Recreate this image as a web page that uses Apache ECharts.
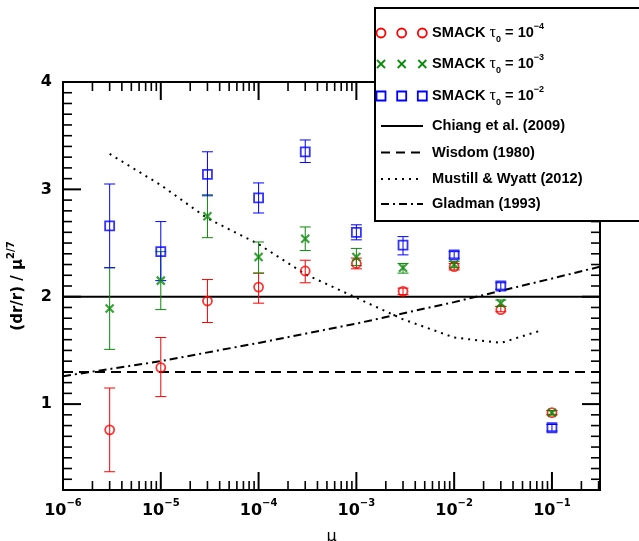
<!DOCTYPE html>
<html><head><meta charset="utf-8">
<script src="https://cdn.jsdelivr.net/npm/echarts@6/dist/echarts.min.js"></script>
<style>html,body{margin:0;padding:0;background:#fff}#c{width:639px;height:541px}</style>
</head><body><div id="c"></div>
<script>
// ---- data ----
const mu = [3e-6, 1e-5, 3e-5, 1e-4, 3e-4, 1e-3, 3e-3, 1e-2, 3e-2, 1e-1];
const redVal = [0.76, 1.34, 1.96, 2.09, 2.24, 2.31, 2.05, 2.28, 1.88, 0.92];
const redLo  = [0.37, 1.07, 1.76, 1.94, 2.13, 2.26, 2.02, 2.25, 1.86, 0.90];
const redHi  = [1.15, 1.62, 2.16, 2.22, 2.34, 2.36, 2.08, 2.31, 1.91, 0.94];
const greenVal = [1.89, 2.15, 2.75, 2.37, 2.54, 2.37, 2.27, 2.30, 1.94, 0.92];
const greenLo  = [1.51, 1.88, 2.55, 2.22, 2.43, 2.29, 2.22, 2.27, 1.91, 0.90];
const greenHi  = [2.27, 2.42, 2.95, 2.51, 2.65, 2.45, 2.31, 2.33, 1.97, 0.94];
const blueVal = [2.66, 2.42, 3.14, 2.92, 3.35, 2.60, 2.48, 2.39, 2.10, 0.78];
const blueLo  = [2.27, 2.15, 2.94, 2.78, 3.25, 2.53, 2.39, 2.36, 2.07, 0.75];
const blueHi  = [3.05, 2.70, 3.35, 3.06, 3.46, 2.67, 2.56, 2.42, 2.13, 0.81];
const chiangMu = [1e-6, 0.31];
const chiangVal = [2.0, 2.0];
const wisdomMu = [1e-6, 0.31];
const wisdomVal = [1.3, 1.3];
const mustillMu = [3e-6, 1e-5, 3e-5, 1e-4, 3e-4, 1e-3, 3e-3, 1e-2, 3e-2, 8e-2];
const mustillVal = [3.33, 3.04, 2.73, 2.49, 2.21, 1.99, 1.79, 1.62, 1.57, 1.69];
const gladmanMu = [1e-6, 1e-5, 1e-4, 1e-3, 1e-2, 1e-1, 0.31];
const gladmanVal = [1.26, 1.40, 1.57, 1.75, 1.95, 2.17, 2.28];
const xMin = 1e-6, xMax = 0.31, yMin = 0.2, yMax = 4;
const xMajorTicks = [1e-6, 1e-5, 1e-4, 1e-3, 1e-2, 1e-1];
const yMajorTicks = [1, 2, 3, 4];

// ---- helpers ----
const zip = (a, b) => a.map((v, i) => [v, b[i]]);
const zip3 = (a, b, c) => a.map((v, i) => [v, b[i], c[i]]);

// tick marks (all four sides)
const tickData = [];
xMajorTicks.forEach(d => {
  for (let m = 1; m <= 9; m++) {
    const v = m * d;
    if (v < xMin * 0.999 || v > xMax) continue;
    const maj = m === 1 ? 1 : 0;
    tickData.push([v, yMin, 0, maj]);
    tickData.push([v, yMax, 1, maj]);
  }
});
for (let i = 2; i <= 40; i++) {
  const v = i / 10;
  const maj = i % 10 === 0 ? 1 : 0;
  tickData.push([xMin, v, 2, maj]);
  tickData.push([xMax, v, 3, maj]);
}

function errRender(color) {
  return function (params, api) {
    const x = api.value(0);
    const p1 = api.coord([x, api.value(1)]);
    const p2 = api.coord([x, api.value(2)]);
    const w = 5.5;
    const st = { stroke: color, lineWidth: 1 };
    return { type: 'group', children: [
      { type: 'line', shape: { x1: p1[0], y1: p1[1], x2: p2[0], y2: p2[1] }, style: st },
      { type: 'line', shape: { x1: p1[0] - w, y1: p1[1], x2: p1[0] + w, y2: p1[1] }, style: st },
      { type: 'line', shape: { x1: p2[0] - w, y1: p2[1], x2: p2[0] + w, y2: p2[1] }, style: st }
    ]};
  };
}

const RED = '#ff0000', GREEN = '#0a8a0a', BLUE = '#0000ff';
const tickFont = 'DejaVu Sans';
const legFont = 'Liberation Sans';

const crossPath = 'path://M0,0L10,10M10,0L0,10';

const chart = echarts.init(document.getElementById('c'), null, { renderer: 'canvas' });

// legend graphics
const lx = [381, 401.7, 422.3];
const rowsY = [33, 64, 96, 126, 152.5, 179, 204];
const legTextRich = {
  t: { fontFamily: 'Liberation Serif', fontSize: 16, fontWeight: 'normal', lineHeight: 22 },
  sub: { fontFamily: legFont, fontWeight: 'bold', fontSize: 9, verticalAlign: 'bottom', lineHeight: 13 },
  sup: { fontFamily: legFont, fontWeight: 'bold', fontSize: 9, verticalAlign: 'top', lineHeight: 10 }
};
function legText(txt, y) {
  return { type: 'text', z: 101, style: { text: txt, x: 432, y: y, verticalAlign: 'middle',
    fontFamily: legFont, fontWeight: 'bold', fontSize: 14.6, lineHeight: 22, fill: '#000', rich: legTextRich } };
}
const g = [];
g.push({ type: 'rect', z: 100, shape: { x: 375, y: 8, width: 290, height: 213 },
  style: { fill: '#fff', stroke: '#000', lineWidth: 2 } });
lx.forEach(x => {
  g.push({ type: 'circle', z: 101, shape: { cx: x, cy: rowsY[0], r: 4.5 }, style: { fill: 'none', stroke: RED, lineWidth: 1.8 } });
  g.push({ type: 'polyline', z: 101, shape: { points: [[x - 4, rowsY[1] - 4], [x + 4, rowsY[1] + 4]] }, style: { stroke: GREEN, lineWidth: 1.8, fill: null } });
  g.push({ type: 'polyline', z: 101, shape: { points: [[x - 4, rowsY[1] + 4], [x + 4, rowsY[1] - 4]] }, style: { stroke: GREEN, lineWidth: 1.8, fill: null } });
  g.push({ type: 'rect', z: 101, shape: { x: x - 4.5, y: rowsY[2] - 4.5, width: 9, height: 9 }, style: { fill: 'none', stroke: BLUE, lineWidth: 1.8 } });
});
const lineTypes = [null, [9, 6], [2, 5], [8, 4, 2, 4]];
lineTypes.forEach((d, i) => {
  g.push({ type: 'line', z: 101, shape: { x1: 381, y1: rowsY[3 + i], x2: 423, y2: rowsY[3 + i] },
    style: { stroke: '#000', lineWidth: 2, lineDash: d } });
});
g.push(legText('SMACK {t|τ}{sub|0} = 10{sup|−4}', rowsY[0]));
g.push(legText('SMACK {t|τ}{sub|0} = 10{sup|−3}', rowsY[1]));
g.push(legText('SMACK {t|τ}{sub|0} = 10{sup|−2}', rowsY[2]));
g.push(legText('Chiang et al. (2009)', rowsY[3]));
g.push(legText('Wisdom (1980)', rowsY[4]));
g.push(legText('Mustill & Wyatt (2012)', rowsY[5]));
g.push(legText('Gladman (1993)', rowsY[6]));

const option = {
  animation: false,
  backgroundColor: '#fff',
  grid: { left: 63, top: 82, right: 39, bottom: 51, outerBoundsMode: 'none', containLabel: false,
    show: true, borderColor: '#000', borderWidth: 2, backgroundColor: 'transparent' },
  xAxis: {
    type: 'log', logBase: 10, min: xMin, max: xMax,
    name: 'μ', nameLocation: 'middle', nameGap: 36,
    nameTextStyle: { fontFamily: tickFont, fontSize: 16, color: '#000' },
    axisLine: { show: false }, axisTick: { show: false }, splitLine: { show: false }, minorTick: { show: false },
    axisLabel: {
      interval: 0, margin: 8, color: '#000', fontFamily: tickFont, fontWeight: 'bold', fontSize: 16, lineHeight: 26,
      showMaxLabel: true, showMinLabel: true,
      formatter: function (v) {
        const l = Math.log10(v); const e = Math.round(l);
        if (Math.abs(l - e) > 1e-6) return '';
        return '10{s|−' + (-e) + '}';
      },
      rich: { s: { fontFamily: tickFont, fontWeight: 'bold', fontSize: 10, verticalAlign: 'top', lineHeight: 12 } }
    }
  },
  yAxis: {
    type: 'value', min: yMin, max: yMax, interval: 0.2,
    name: '(dr/r) / μ{s|2/7}', nameLocation: 'middle', nameGap: 32, nameRotate: 90,
    nameTextStyle: { fontFamily: tickFont, fontWeight: 'bold', fontSize: 15, color: '#000', lineHeight: 24,
      rich: { s: { fontFamily: tickFont, fontWeight: 'bold', fontSize: 10, verticalAlign: 'top', lineHeight: 12 } } },
    axisLine: { show: false }, axisTick: { show: false }, splitLine: { show: false },
    axisLabel: {
      interval: 0, margin: 11, color: '#000', fontFamily: tickFont, fontWeight: 'bold', fontSize: 16,
      formatter: function (v) {
        return yMajorTicks.some(t => Math.abs(t - v) < 1e-6) ? String(Math.round(v)) : '';
      }
    }
  },
  graphic: g,
  series: [
    { name: 'ticks', type: 'custom', clip: false, silent: true, z: 10, encode: { x: 0, y: 1 },
      data: tickData,
      renderItem: function (params, api) {
        const p = api.coord([api.value(0), api.value(1)]);
        const side = api.value(2), maj = api.value(3);
        const L = maj ? 18 : 9;
        let x2 = p[0], y2 = p[1];
        if (side === 0) y2 -= L; else if (side === 1) y2 += L; else if (side === 2) x2 += L; else x2 -= L;
        return { type: 'line', shape: { x1: p[0], y1: p[1], x2: x2, y2: y2 }, style: { stroke: '#000', lineWidth: maj ? 2 : 1.6 } };
      } },
    { name: 'Chiang et al. (2009)', type: 'line', data: zip(chiangMu, chiangVal), showSymbol: false,
      lineStyle: { color: '#000', width: 2 }, z: 3 },
    { name: 'Wisdom (1980)', type: 'line', data: zip(wisdomMu, wisdomVal), showSymbol: false,
      lineStyle: { color: '#000', width: 2, type: [10, 6] }, z: 3 },
    { name: 'Mustill & Wyatt (2012)', type: 'line', data: zip(mustillMu, mustillVal), showSymbol: false,
      lineStyle: { color: '#000', width: 2, type: [2, 5] }, z: 3 },
    { name: 'Gladman (1993)', type: 'line', data: zip(gladmanMu, gladmanVal), showSymbol: false,
      lineStyle: { color: '#000', width: 2, type: [8, 4, 2, 4] }, z: 3 },
    { name: 'errR', type: 'custom', data: zip3(mu, redLo, redHi), encode: { x: 0, y: [1, 2] }, renderItem: errRender(RED), z: 4 },
    { name: 'errG', type: 'custom', data: zip3(mu, greenLo, greenHi), encode: { x: 0, y: [1, 2] }, renderItem: errRender(GREEN), z: 4 },
    { name: 'errB', type: 'custom', data: zip3(mu, blueLo, blueHi), encode: { x: 0, y: [1, 2] }, renderItem: errRender(BLUE), z: 4 },
    { name: 'SMACK τ0 = 10^-4', type: 'scatter', data: zip(mu, redVal), symbol: 'circle', symbolSize: 9,
      itemStyle: { color: 'rgba(0,0,0,0)', borderColor: RED, borderWidth: 1.8 }, z: 5 },
    { name: 'SMACK τ0 = 10^-3', type: 'scatter', data: zip(mu, greenVal), symbol: crossPath, symbolSize: 8,
      itemStyle: { color: 'rgba(0,0,0,0)', borderColor: GREEN, borderWidth: 2.2 }, z: 5 },
    { name: 'SMACK τ0 = 10^-2', type: 'scatter', data: zip(mu, blueVal), symbol: 'rect', symbolSize: 9,
      itemStyle: { color: 'rgba(0,0,0,0)', borderColor: BLUE, borderWidth: 1.8 }, z: 5 }
  ]
};
chart.setOption(option);
</script>
</body></html>
